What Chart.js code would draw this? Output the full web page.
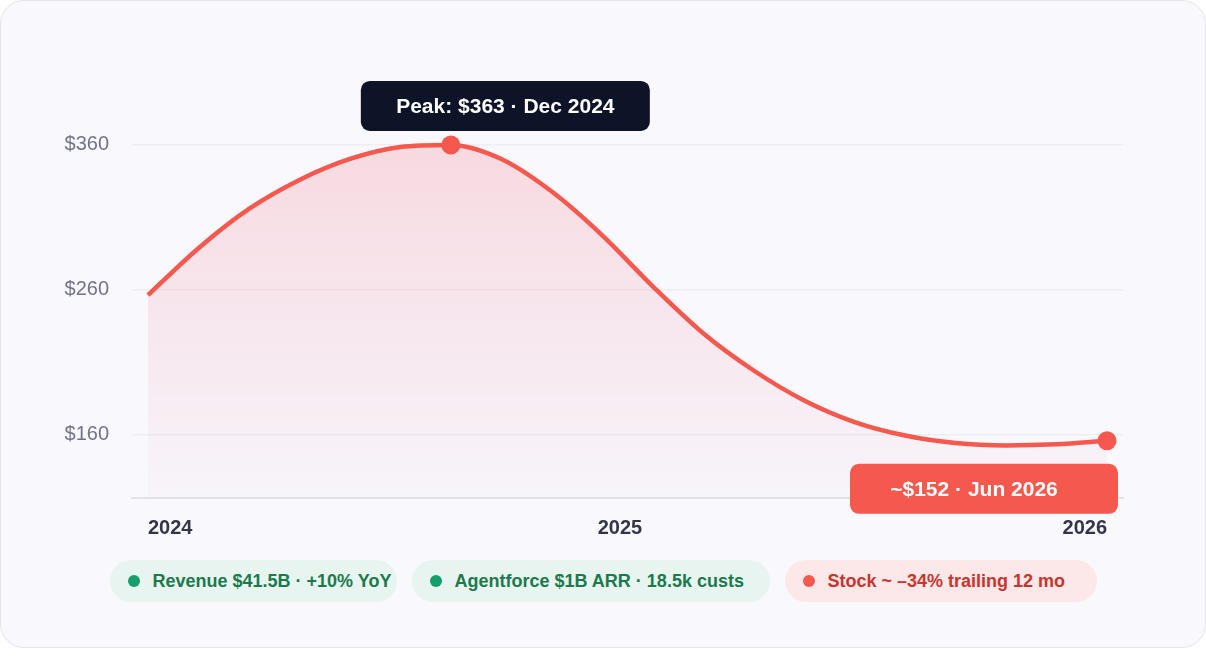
<!DOCTYPE html>
<html>
<head>
<meta charset="utf-8">
<script src="https://cdn.jsdelivr.net/npm/chart.js@4.4.1/dist/chart.umd.min.js"></script>
<style>
  html, body { margin: 0; padding: 0; background: #ffffff; }
  body { width: 1206px; height: 658px; position: relative; overflow: hidden; font-family: "Liberation Sans", Arial, sans-serif; }
  .card { position: absolute; left: 0; top: 0; width: 1206px; height: 648px; box-sizing: border-box;
          border: 1px solid #e4e4ee; border-radius: 24px; background: #f8f8fd; }
  #chart { position: absolute; left: 0; top: 0; }
  .legend { position: absolute; left: 0; top: 560px; width: 1206px; height: 42px; display: flex; justify-content: center; gap: 15px; }
  .pill { height: 42px; border-radius: 21px; display: flex; align-items: center; box-sizing: border-box; padding-left: 18px;
          font-weight: bold; font-size: 18px; white-space: nowrap; }
  .pill .dot { width: 12px; height: 12px; border-radius: 50%; margin-right: 13px; flex: none; }
  .pill.green { background: #e8f4ef; color: #1b7a4d; }
  .pill.green .dot { background: #14a06b; }
  .pill.red { background: #fde8e9; color: #c8352e; }
  .pill.red .dot { background: #f5584d; }
</style>
</head>
<body>
<div class="card"></div>
<canvas id="chart" width="1206" height="545"></canvas>
<div class="legend" id="legend"></div>
<script>
// ---- data (20 evenly spaced observations) ----
const steps = [0, 1, 2, 3, 4, 5, 6, 7, 8, 9, 10, 11, 12, 13, 14, 15, 16, 17, 18, 19];
const prices = [256, 288.4, 315.5, 335.5, 350, 358.3, 359.7, 350, 327.5, 297.3, 262.1, 229.7, 204, 183.3, 168.4, 159.1, 153.9, 152.3, 153.1, 155.5];
const xTickValues = [0, 9.35, 19];
const xTickLabels = ['2024', '2025', '2026'];
const yTickValues = [160, 260, 360];
const peakIndex = 6;
const peakLabel = 'Peak: $363 \u00b7 Dec 2024';
const endLabel = '~$152 \u00b7 Jun 2026';
const legendItems = ['Revenue $41.5B \u00b7 +10% YoY', 'Agentforce $1B ARR \u00b7 18.5k custs', 'Stock ~ \u201334% trailing 12 mo'];
const legendKinds = ['green', 'green', 'red'];

// ---- legend (HTML) ----
const legendWidths = [287, 358, 312];
const legendEl = document.getElementById('legend');
legendItems.forEach((t, i) => {
  const d = document.createElement('div');
  d.className = 'pill ' + legendKinds[i];
  d.style.width = legendWidths[i] + 'px';
  const dot = document.createElement('span'); dot.className = 'dot';
  const tx = document.createElement('span'); tx.textContent = t;
  d.appendChild(dot); d.appendChild(tx);
  legendEl.appendChild(d);
});

const LINE = '#f5584d';
const FONT = '"Liberation Sans", Arial, sans-serif';

const boxes = {
  id: 'boxes',
  afterDraw(chart) {
    const ctx = chart.ctx;
    const meta = chart.getDatasetMeta(0);
    const pk = meta.data[peakIndex];
    const en = meta.data[meta.data.length - 1];
    ctx.save();
    ctx.font = 'bold 21px ' + FONT;
    ctx.textAlign = 'center';
    ctx.textBaseline = 'middle';
    // peak box
    let x = pk.x - 90, y = pk.y - 64, w = 289, h = 50;
    ctx.fillStyle = '#0d1427';
    ctx.beginPath(); ctx.roundRect(x, y, w, h, 9); ctx.fill();
    ctx.fillStyle = '#ffffff';
    ctx.fillText(peakLabel, x + w / 2, y + h / 2 + 1);
    // end box
    w = 268; x = en.x + 11 - w; y = en.y + 23;
    ctx.fillStyle = '#f5584d';
    ctx.beginPath(); ctx.roundRect(x, y, w, h, 9); ctx.fill();
    ctx.fillStyle = '#ffffff';
    ctx.fillText(endLabel, x + w / 2 - 10, y + h / 2 + 1);
    ctx.restore();
  }
};

new Chart(document.getElementById('chart'), {
  type: 'line',
  data: {
    datasets: [{
      data: steps.map((s, i) => ({ x: s, y: prices[i] })),
      borderColor: LINE,
      borderWidth: 4.5,
      cubicInterpolationMode: 'monotone',
      fill: 'start',
      backgroundColor: (c) => {
        const a = c.chart.chartArea;
        if (!a) return 'rgba(245,88,77,0.1)';
        const g = c.chart.ctx.createLinearGradient(0, a.top + 30, 0, a.bottom);
        g.addColorStop(0, 'rgba(245,88,100,0.19)');
        g.addColorStop(1, 'rgba(245,88,120,0.02)');
        return g;
      },
      pointRadius: (c) => (c.dataIndex === peakIndex || c.dataIndex === steps.length - 1) ? 9.5 : 0,
      pointBackgroundColor: LINE,
      pointBorderWidth: 0,
      pointHoverRadius: 0
    }]
  },
  options: {
    responsive: false,
    animation: false,
    events: [],
    layout: { padding: { top: 115.5, right: 83, left: 0, bottom: 0 } },
    plugins: { legend: { display: false }, tooltip: { enabled: false } },
    scales: {
      x: {
        type: 'linear',
        min: -0.317,
        max: 19.317,
        afterBuildTicks: (s) => { s.ticks = xTickValues.map(v => ({ value: v })); },
        afterFit: (s) => { s.height = 47; },
        grid: { display: false, drawTicks: false },
        border: { display: true, color: '#e2e2eb', width: 2 },
        ticks: {
          autoSkip: false,
          maxRotation: 0,
          align: 'inner',
          padding: 18,
          color: '#33354a',
          font: { family: FONT, size: 20, weight: 'bold' },
          callback: (v) => { const i = xTickValues.indexOf(v); return i >= 0 ? xTickLabels[i] : ''; }
        }
      },
      y: {
        min: 116,
        max: 380,
        afterBuildTicks: (s) => { s.ticks = yTickValues.map(v => ({ value: v })); },
        afterFit: (s) => { s.width = 132; },
        grid: { color: '#ededf4', lineWidth: 1.5, drawTicks: false },
        border: { display: false },
        ticks: {
          padding: 23,
          color: '#72728c',
          font: { family: FONT, size: 20 },
          callback: (v) => '$' + v
        }
      }
    }
  },
  plugins: [boxes]
});
</script>
</body>
</html>
